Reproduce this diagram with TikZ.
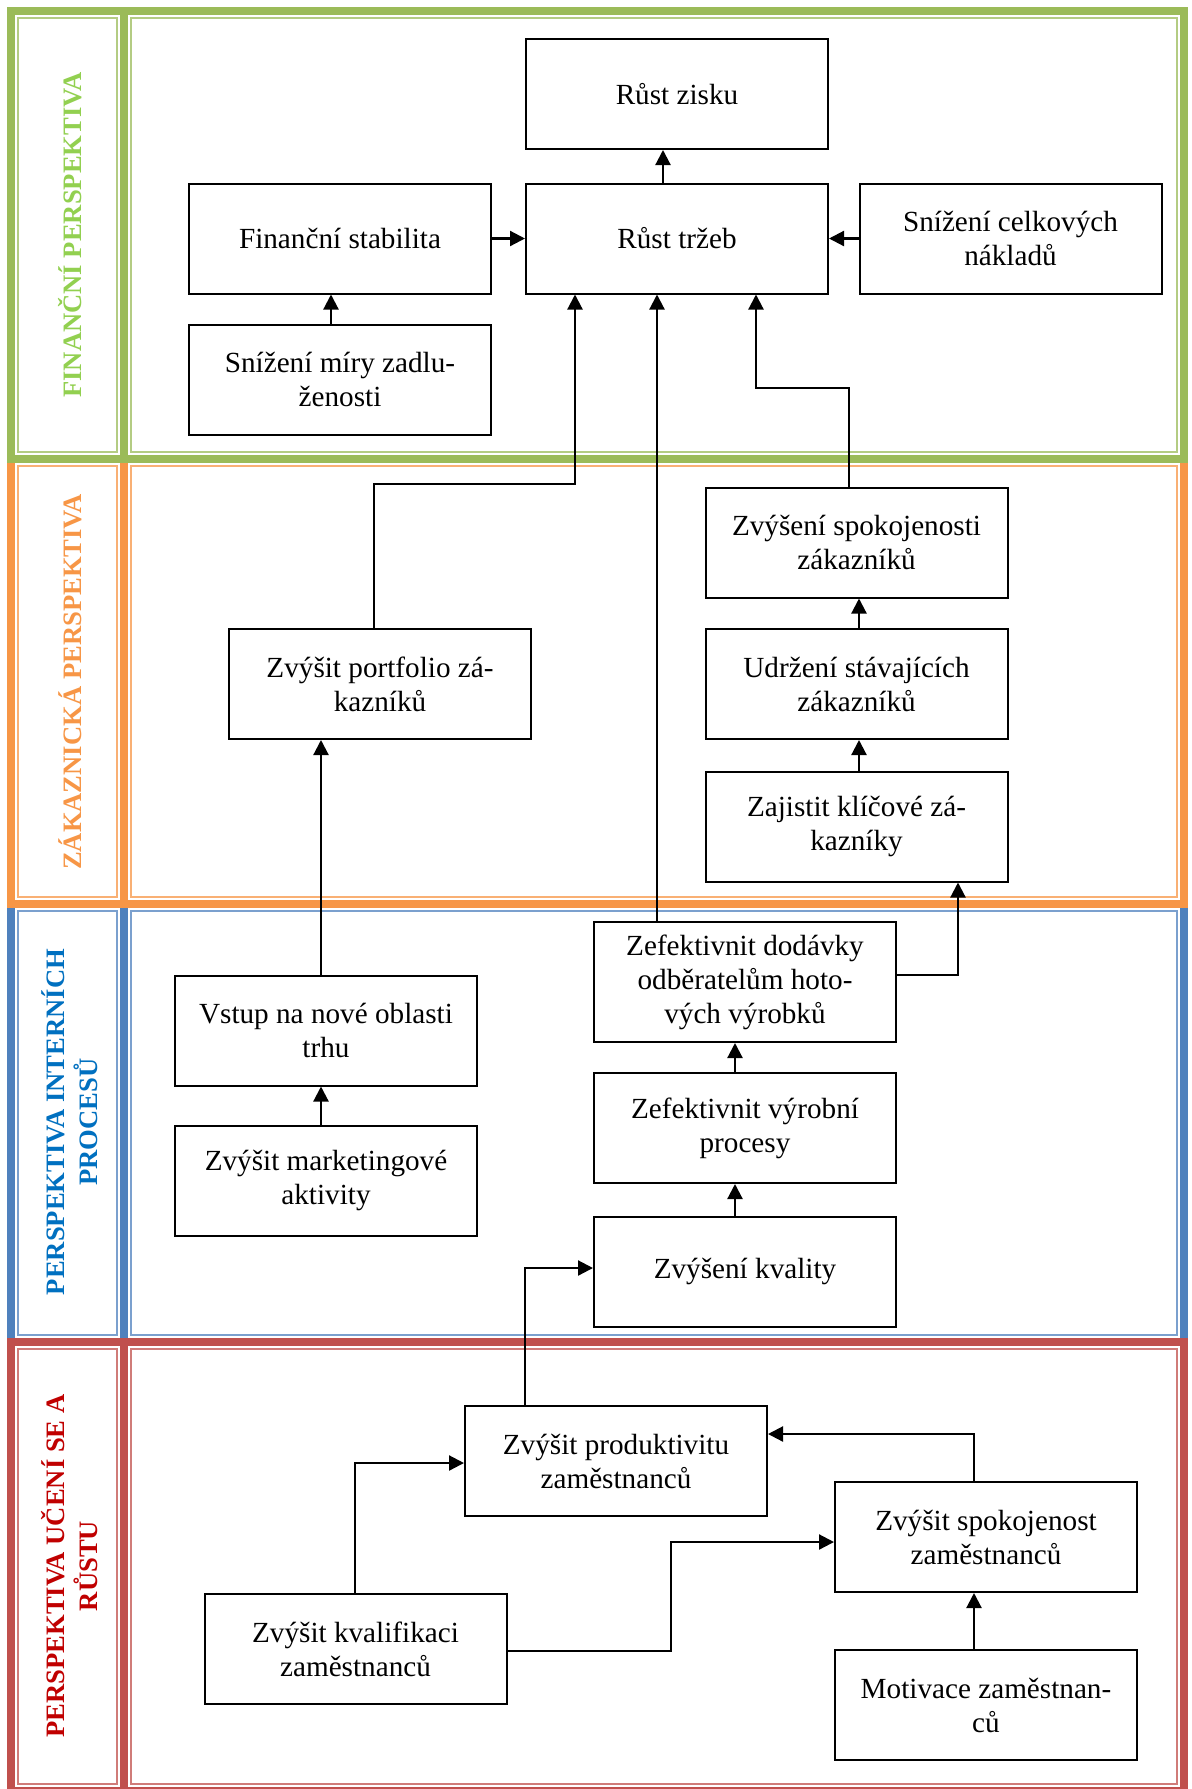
\documentclass[tikz,border=0pt]{standalone}
\usepackage{fontspec}
\setmainfont{Liberation Serif}
\usetikzlibrary{arrows.meta}
\definecolor{zelena}{HTML}{9BBB59}
\definecolor{oranzova}{HTML}{F79646}
\definecolor{modra}{HTML}{4F81BD}
\definecolor{cervena}{HTML}{C0504D}
\definecolor{zelenaText}{HTML}{92D050}
\definecolor{modraText}{HTML}{0070C0}
\definecolor{cervenaText}{HTML}{C00000}

\begin{document}
\begin{tikzpicture}[x=0.5pt, y=-0.5pt,
  box/.style={draw, line width=1pt, minimum width=151pt, minimum height=55pt,
    inner sep=0pt, align=center, font=\fontsize{14.6}{17}\selectfont},
  arr/.style={line width=1.1pt, -{Triangle[length=7.5pt, width=7.5pt]}},
  popis/.style={rotate=90, align=center, font=\bfseries\fontsize{13.3}{16.5}\selectfont}]
  \useasboundingbox (0,0) rectangle (1191,1789);
  \fill[white] (0,0) rectangle (1191,1789);
  % Rámy perspektiv
  \foreach \ya/\yb/\barva in {904/1342/modra, 1342/1791/cervena, 459/904/oranzova, 11/459/zelena} {
    \draw[\barva, line width=4pt] (11,\ya) rectangle (124,\yb) (124,\ya) rectangle (1184,\yb);
    \draw[\barva!75, line width=1pt] (18,\ya+7) rectangle (117,\yb-7) (131,\ya+7) rectangle (1177,\yb-7);
  }
  % Popisky perspektiv
  \node[popis, text=zelenaText] (lFin) at (70,235) {FINANČNÍ PERSPEKTIVA};
  \node[popis, text=oranzova] (lZak) at (70,682) {ZÁKAZNICKÁ PERSPEKTIVA};
  \node[popis, text=modraText] (lInt) at (70,1122) {PERSPEKTIVA INTERNÍCH\\PROCESŮ};
  \node[popis, text=cervenaText] (lUc) at (70,1566) {PERSPEKTIVA UČENÍ SE A\\RŮSTU};
  % Finanční perspektiva
  \node[box] (zisk) at (677,94) {Růst zisku};
  \node[box] (trzby) at (677,238.5) {Růst tržeb};
  \node[box] (naklady) at (1010.5,238.5) {Snížení celkových\\nákladů};
  \node[box] (stabilita) at (340,238.5) {Finanční stabilita};
  \node[box] (zadluzenost) at (340,379.5) {Snížení míry zadlu-\\ženosti};
  % Zákaznická perspektiva
  \node[box] (portfolio) at (380,684) {Zvýšit portfolio zá-\\kazníků};
  \node[box] (spokZak) at (856.5,542.5) {Zvýšení spokojenosti\\zákazníků};
  \node[box] (udrzeni) at (856.5,684) {Udržení stávajících\\zákazníků};
  \node[box] (zajistit) at (856.5,826.5) {Zajistit klíčové zá-\\kazníky};
  % Perspektiva interních procesů
  \node[box, minimum height=60pt] (dodavky) at (745,982) {Zefektivnit dodávky\\odběratelům hoto-\\vých výrobků};
  \node[box] (vstup) at (326,1030.5) {Vstup na nové oblasti\\trhu};
  \node[box] (marketing) at (326,1180.5) {Zvýšit marketingové\\aktivity};
  \node[box] (vyrobni) at (745,1128) {Zefektivnit výrobní\\procesy};
  \node[box] (kvalita) at (745,1271.5) {Zvýšení kvality};
  % Perspektiva učení se a růstu
  \node[box] (produktivita) at (616,1461) {Zvýšit produktivitu\\zaměstnanců};
  \node[box] (spokZam) at (986,1537) {Zvýšit spokojenost\\zaměstnanců};
  \node[box] (kvalifikace) at (355.5,1649) {Zvýšit kvalifikaci\\zaměstnanců};
  \node[box] (motivace) at (986,1705) {Motivace zaměstnan-\\ců};
  % Vazby
  \draw[arr] (trzby.north -| 663,0) -- (zisk.south -| 663,0);
  \draw[arr] (stabilita.east) -- (trzby.west);
  \draw[arr] (naklady.west) -- (trzby.east);
  \draw[arr] (zadluzenost.north -| 331,0) -- (stabilita.south -| 331,0);
  \draw[arr] (portfolio.north -| 374,0) -- (374,484) -| (trzby.south -| 575,0);
  \draw[arr] (dodavky.north -| 657,0) -- (trzby.south -| 657,0);
  \draw[arr] (spokZak.north -| 849,0) -- (849,388) -| (trzby.south -| 756,0);
  \draw[arr] (udrzeni.north -| 859,0) -- (spokZak.south -| 859,0);
  \draw[arr] (zajistit.north -| 859,0) -- (udrzeni.south -| 859,0);
  \draw[arr] (dodavky.east |- 0,975) -| (zajistit.south -| 958,0);
  \draw[arr] (vstup.north -| 321,0) -- (portfolio.south -| 321,0);
  \draw[arr] (marketing.north -| 321,0) -- (vstup.south -| 321,0);
  \draw[arr] (vyrobni.north -| 735,0) -- (dodavky.south -| 735,0);
  \draw[arr] (kvalita.north -| 735,0) -- (vyrobni.south -| 735,0);
  \draw[arr] (produktivita.north -| 525,0) |- (kvalita.west |- 0,1268);
  \draw[arr] (spokZam.north -| 974,0) |- (produktivita.east |- 0,1434);
  \draw[arr] (kvalifikace.north -| 355,0) |- (produktivita.west |- 0,1463);
  \draw[arr] (kvalifikace.east |- 0,1651) -| (671,1542) -- (spokZam.west |- 0,1542);
  \draw[arr] (motivace.north -| 974,0) -- (spokZam.south -| 974,0);
\end{tikzpicture}
\end{document}
